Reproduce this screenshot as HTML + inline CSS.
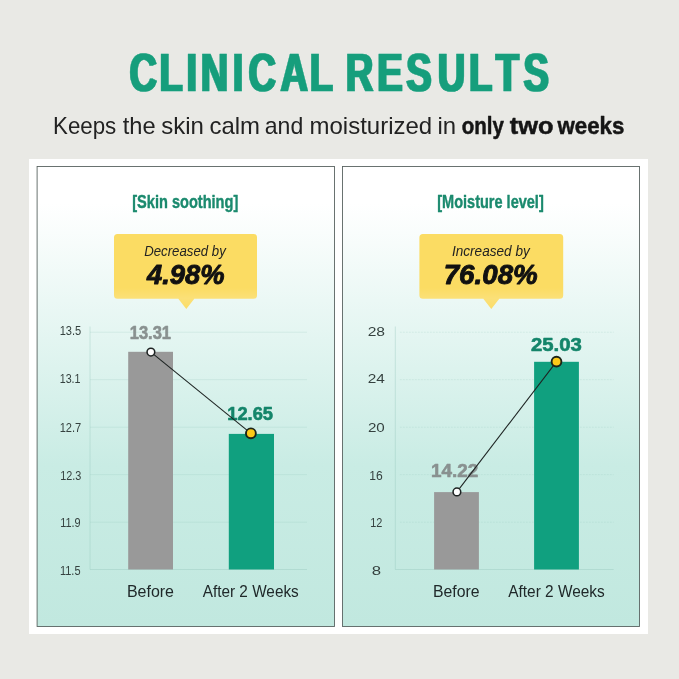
<!DOCTYPE html>
<html lang="en">
<head>
<meta charset="utf-8">
<title>Clinical Results</title>
<style>
  html,body{margin:0;padding:0;background:#e9e9e5;}
  body{width:679px;height:679px;overflow:hidden;position:relative;font-family:"Liberation Sans",sans-serif;}
  svg{position:absolute;left:0;top:0;display:block;}
  text{font-family:"Liberation Sans",sans-serif;}
  .b{font-weight:bold;}
  .i{font-style:italic;}
</style>
</head>
<body>
<svg width="679" height="679" viewBox="0 0 679 679">
  <defs>
    <linearGradient id="cardg" x1="0" y1="0" x2="0" y2="1">
      <stop offset="0" stop-color="#ffffff"/>
      <stop offset="0.08" stop-color="#ffffff"/>
      <stop offset="0.65" stop-color="#c9ece4"/>
      <stop offset="1" stop-color="#c1e8df"/>
    </linearGradient>
    <linearGradient id="yel" gradientUnits="userSpaceOnUse" x1="0" y1="234" x2="0" y2="309">
      <stop offset="0" stop-color="#fbdc63"/>
      <stop offset="0.72" stop-color="#fbdc63"/>
      <stop offset="0.86" stop-color="#fbe078"/>
      <stop offset="1" stop-color="#fbdd68"/>
    </linearGradient>
    <filter id="fat" x="-5%" y="-20%" width="110%" height="140%">
      <feMorphology operator="dilate" radius="1 0"/>
    </filter>
  </defs>
  <rect id="bg" x="0" y="0" width="679" height="679" fill="#e9e9e5"/>

  <!-- heading -->
  <g filter="url(#fat)"><text id="title" transform="translate(0 91.4) scale(0.705 1)" x="183.79 226.39 264.68 284.92 330.28 352.65 397.97 439.44 476.60 490.46 535.13 576.32 620.81 665.40 703.12 742.64" y="0" class="b" font-size="54" fill="#169e7c" stroke="#169e7c" stroke-width="0.5" stroke-linejoin="round">CLINICAL RESULTS</text></g>
  <text id="sub" y="134" font-size="24"><tspan id="s1" x="53.00" fill="#222" textLength="63.25" lengthAdjust="spacingAndGlyphs">Keeps</tspan> <tspan id="s2" x="122.71" fill="#222" textLength="32.87" lengthAdjust="spacingAndGlyphs">the</tspan> <tspan id="s3" x="161.18" fill="#222" textLength="42.64" lengthAdjust="spacingAndGlyphs">skin</tspan> <tspan id="s4" x="209.42" fill="#222" textLength="50.57" lengthAdjust="spacingAndGlyphs">calm</tspan> <tspan id="s5" x="264.78" fill="#222" textLength="38.44" lengthAdjust="spacingAndGlyphs">and</tspan> <tspan id="s6" x="309.51" fill="#222" textLength="122.64" lengthAdjust="spacingAndGlyphs">moisturized</tspan> <tspan id="s7" x="437.38" fill="#222" textLength="18.62" lengthAdjust="spacingAndGlyphs">in</tspan> <tspan id="s8" x="461.81" class="b" fill="#151515" stroke="#151515" stroke-width="0.5" stroke-linejoin="round" textLength="42.20" lengthAdjust="spacingAndGlyphs">only</tspan> <tspan id="s9" x="509.74" class="b" fill="#151515" stroke="#151515" stroke-width="0.5" stroke-linejoin="round" textLength="43.76" lengthAdjust="spacingAndGlyphs">two</tspan> <tspan id="s10" x="557.59" class="b" fill="#151515" stroke="#151515" stroke-width="0.5" stroke-linejoin="round" textLength="66.70" lengthAdjust="spacingAndGlyphs">weeks</tspan></text>

  <!-- white panel -->
  <rect x="29" y="159" width="619" height="475" fill="#ffffff"/>

  <!-- cards -->
  <rect x="37.1" y="166.5" width="297.4" height="460" fill="url(#cardg)" stroke="#5a6462" stroke-width="0.9"/>
  <rect x="342.5" y="166.5" width="297" height="460" fill="url(#cardg)" stroke="#5a6462" stroke-width="0.9"/>

  <!-- ===== LEFT CARD : Skin soothing ===== -->
  <text id="l1" x="132.24" y="207.9" class="b" font-size="17.6" fill="#1b8a6e" stroke="#1b8a6e" stroke-width="0.4" stroke-linejoin="round" textLength="106.03" lengthAdjust="spacingAndGlyphs">[Skin soothing]</text>
  <path d="M117.5 234 H253.5 a3.5 3.5 0 0 1 3.5 3.5 V295.3 a3.5 3.5 0 0 1 -3.5 3.5 H194.3 L186.3 308.9 L178.3 298.8 H117.5 a3.5 3.5 0 0 1 -3.5 -3.5 V237.5 a3.5 3.5 0 0 1 3.5 -3.5 Z" fill="url(#yel)"/>
  <text id="l2" x="144.24" y="255.7" class="i" font-size="15" fill="#222" textLength="81.51" lengthAdjust="spacingAndGlyphs">Decreased by</text>
  <text id="l3" x="147.01" y="284" class="b i" font-size="27.2" fill="#111" stroke="#111" stroke-width="0.9" stroke-linejoin="round" textLength="77.49" lengthAdjust="spacingAndGlyphs">4.98%</text>

  <g stroke="#8fc4b8" stroke-width="1" opacity="0.22">
    <line x1="90" y1="332.2" x2="307" y2="332.2"/>
    <line x1="90" y1="379.7" x2="307" y2="379.7"/>
    <line x1="90" y1="427.2" x2="307" y2="427.2"/>
    <line x1="90" y1="474.7" x2="307" y2="474.7"/>
    <line x1="90" y1="522.2" x2="307" y2="522.2"/>
  </g>
  <line x1="90" y1="569.5" x2="307" y2="569.5" stroke="#8fc4b8" stroke-width="1" opacity="0.35"/>
  <line x1="90" y1="326.5" x2="90" y2="569.5" stroke="#8fc4b8" stroke-width="1" opacity="0.35"/>

  <text id="ly1" x="59.70" y="335.4" font-size="13.6" fill="#35413f" textLength="21.59" lengthAdjust="spacingAndGlyphs">13.5</text>
  <text id="ly2" x="59.70" y="383.3" font-size="13.6" fill="#35413f" textLength="20.85" lengthAdjust="spacingAndGlyphs">13.1</text>
  <text id="ly3" x="59.70" y="431.6" font-size="13.6" fill="#35413f" textLength="21.59" lengthAdjust="spacingAndGlyphs">12.7</text>
  <text id="ly4" x="60.18" y="479.6" font-size="13.6" fill="#35413f" textLength="21.11" lengthAdjust="spacingAndGlyphs">12.3</text>
  <text id="ly5" x="60.18" y="527.2" font-size="13.6" fill="#35413f" textLength="20.39" lengthAdjust="spacingAndGlyphs">11.9</text>
  <text id="ly6" x="59.94" y="574.7" font-size="13.6" fill="#35413f" textLength="20.60" lengthAdjust="spacingAndGlyphs">11.5</text>

  <rect x="128.2" y="351.8" width="44.8" height="217.7" fill="#999999"/>
  <rect x="228.8" y="433.9" width="45.2" height="135.6" fill="#10a07f"/>

  <text id="lv1" x="129.72" y="338.9" class="b" font-size="18.5" fill="#899190" stroke="#899190" stroke-width="0.6" stroke-linejoin="round" textLength="41.28" lengthAdjust="spacingAndGlyphs">13.31</text>
  <text id="lv2" x="227.23" y="420" class="b" font-size="18.6" fill="#14856a" stroke="#14856a" stroke-width="0.6" stroke-linejoin="round" textLength="45.79" lengthAdjust="spacingAndGlyphs">12.65</text>

  <line x1="150.9" y1="352.1" x2="250.9" y2="433.3" stroke="#1d2322" stroke-width="1.05"/>
  <circle cx="150.9" cy="352.1" r="3.85" fill="#ffffff" stroke="#1d2322" stroke-width="1.55"/>
  <circle cx="250.9" cy="433.3" r="4.95" fill="#fcca18" stroke="#1c2418" stroke-width="1.9"/>

  <text id="lx1" x="126.93" y="597.1" font-size="17.2" fill="#20292a" textLength="47.09" lengthAdjust="spacingAndGlyphs">Before</text>
  <text id="lx2" x="202.74" y="597.1" font-size="17.2" fill="#20292a" textLength="96.01" lengthAdjust="spacingAndGlyphs">After 2 Weeks</text>

  <!-- ===== RIGHT CARD : Moisture level ===== -->
  <text id="r1" x="437.24" y="207.9" class="b" font-size="17.6" fill="#1b8a6e" stroke="#1b8a6e" stroke-width="0.4" stroke-linejoin="round" textLength="106.52" lengthAdjust="spacingAndGlyphs">[Moisture level]</text>
  <path d="M422.9 234 H559.7 a3.5 3.5 0 0 1 3.5 3.5 V295.3 a3.5 3.5 0 0 1 -3.5 3.5 H499.3 L491.3 308.9 L483.3 298.8 H422.9 a3.5 3.5 0 0 1 -3.5 -3.5 V237.5 a3.5 3.5 0 0 1 3.5 -3.5 Z" fill="url(#yel)"/>
  <text id="r2" x="451.98" y="255.7" class="i" font-size="15" fill="#222" textLength="77.76" lengthAdjust="spacingAndGlyphs">Increased by</text>
  <text id="r3" x="443.71" y="284" class="b i" font-size="27.2" fill="#111" stroke="#111" stroke-width="0.9" stroke-linejoin="round" textLength="94.05" lengthAdjust="spacingAndGlyphs">76.08%</text>

  <g stroke="#8fc4b8" stroke-width="1" opacity="0.22" stroke-dasharray="2 1">
    <line x1="399.8" y1="332.2" x2="613.7" y2="332.2"/>
    <line x1="399.8" y1="379.7" x2="613.7" y2="379.7"/>
    <line x1="399.8" y1="427.2" x2="613.7" y2="427.2"/>
    <line x1="399.8" y1="474.7" x2="613.7" y2="474.7"/>
    <line x1="399.8" y1="522.2" x2="613.7" y2="522.2"/>
  </g>
  <line x1="395.3" y1="569.5" x2="613.7" y2="569.5" stroke="#8fc4b8" stroke-width="1" opacity="0.35"/>
  <line x1="395.3" y1="326.5" x2="395.3" y2="569.5" stroke="#8fc4b8" stroke-width="1" opacity="0.35"/>

  <text id="ry1" x="367.67" y="335.5" font-size="13.6" fill="#35413f" textLength="17.39" lengthAdjust="spacingAndGlyphs">28</text>
  <text id="ry2" x="367.68" y="383.3" font-size="13.6" fill="#35413f" textLength="17.11" lengthAdjust="spacingAndGlyphs">24</text>
  <text id="ry3" x="367.94" y="431.6" font-size="13.6" fill="#35413f" textLength="16.86" lengthAdjust="spacingAndGlyphs">20</text>
  <text id="ry4" x="369.36" y="479.6" font-size="13.6" fill="#35413f" textLength="13.47" lengthAdjust="spacingAndGlyphs">16</text>
  <text id="ry5" x="370.16" y="527.2" font-size="13.6" fill="#35413f" textLength="12.16" lengthAdjust="spacingAndGlyphs">12</text>
  <text id="ry6" x="371.84" y="574.8" font-size="13.6" fill="#35413f" textLength="9.32" lengthAdjust="spacingAndGlyphs">8</text>

  <rect x="434.1" y="492.1" width="44.8" height="77.4" fill="#999999"/>
  <rect x="534.1" y="361.8" width="44.8" height="207.7" fill="#10a07f"/>

  <text id="rv1" x="430.97" y="477.1" class="b" font-size="18.6" fill="#899190" stroke="#899190" stroke-width="0.6" stroke-linejoin="round" textLength="47.31" lengthAdjust="spacingAndGlyphs">14.22</text>
  <text id="rv2" x="530.98" y="351.2" class="b" font-size="18.6" fill="#14856a" stroke="#14856a" stroke-width="0.6" stroke-linejoin="round" textLength="50.78" lengthAdjust="spacingAndGlyphs">25.03</text>

  <line x1="456.9" y1="491.9" x2="556.5" y2="361.6" stroke="#1d2322" stroke-width="1.05"/>
  <circle cx="456.9" cy="491.9" r="3.85" fill="#ffffff" stroke="#1d2322" stroke-width="1.55"/>
  <circle cx="556.5" cy="361.6" r="4.9" fill="#fcca18" stroke="#1c2418" stroke-width="1.9"/>

  <text id="rx1" x="432.97" y="597.1" font-size="17.2" fill="#20292a" textLength="46.55" lengthAdjust="spacingAndGlyphs">Before</text>
  <text id="rx2" x="508.25" y="597.1" font-size="17.2" fill="#20292a" textLength="96.51" lengthAdjust="spacingAndGlyphs">After 2 Weeks</text>
</svg>
</body>
</html>
